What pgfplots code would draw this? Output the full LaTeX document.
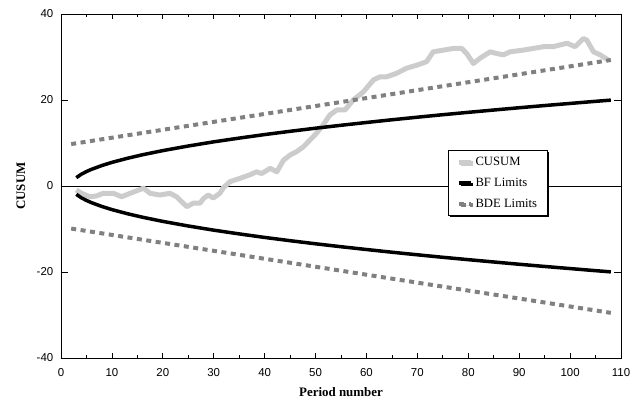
\documentclass[border=0pt]{standalone}
\usepackage{pgfplots}
\pgfplotsset{compat=1.18}
\usepackage{fontspec}
\setmainfont{Liberation Serif}
\newfontfamily\ticksans{Liberation Sans}
\usetikzlibrary{shadows}
\definecolor{cusumgray}{RGB}{204,204,204}
\definecolor{bdegray}{RGB}{128,128,128}
\begin{document}
\begin{tikzpicture}
\begin{axis}[
  scale only axis,
  width=560bp, height=344bp,
  xmin=0, xmax=110, ymin=-40, ymax=40,
  xtick={0,10,...,110},
  xticklabels={0,10,20,30,40,50,60,70,80,90,100,110},
  minor xtick={5,15,...,105},
  ytick={-40,-20,0,20,40},
  yticklabels={-40,-20,0,20,40},
  tick align=inside,
  major tick length=5bp,
  minor tick length=3bp,
  ytick style={/pgfplots/major tick length=7bp},
  tick style={black, line width=0.7bp},
  axis line style={black, line width=0.8bp},
  tick label style={font=\fontsize{11.5}{13}\selectfont\ticksans, inner sep=0pt},
  xticklabel style={anchor=north, yshift=-10.5bp},
  yticklabel style={anchor=east, xshift=-7.5bp},
  xlabel={Period number},
  ylabel={CUSUM},
  label style={font=\fontsize{13}{15}\selectfont\bfseries},
  xlabel style={at={(axis description cs:0.5,-0.0988)}, anchor=center},
  ylabel style={at={(axis description cs:-0.0714,0.5)}, anchor=center},
  legend style={at={(0.78,0.509)}, anchor=center, draw=black, line width=0.6bp,
    font=\fontsize{12.7}{14}\selectfont, row sep=7bp, inner xsep=8bp, inner ysep=5bp,
    drop shadow={shadow xshift=1.5bp, shadow yshift=-1.5bp, fill=black, opacity=1}},
  legend cell align=left,
  legend image code/.code={\draw[#1] (0bp,0bp) -- (12bp,0bp);},
]
\coordinate (SW) at (rel axis cs:0,0);
\addplot[black, line width=0.6bp, forget plot] coordinates {(0,0) (110,0)};
% CUSUM
\addplot[cusumgray, line width=5bp, line join=round] coordinates {
(3,-0.9) (4,-1.7) (5.7,-2.5) (7,-2.3) (8.3,-1.7) (10.3,-1.7) (11.9,-2.5) (13.6,-1.7)
(16.2,-0.5) (17.5,-1.7) (19.4,-2.1) (21.4,-1.7) (22.7,-2.5) (24.7,-4.8) (26,-4.0)
(27.3,-4.0) (28,-2.9) (28.9,-2.1) (29.9,-2.8) (31.2,-1.7) (31.9,-0.4) (33.2,1.0)
(35.2,1.8) (37.1,2.6) (38.4,3.3) (39.4,2.9) (41.1,4.1) (42.4,3.3) (43.7,6.0) (45,7.2)
(46.3,8.0) (47.6,9.1) (48.9,10.7) (50.2,12.3) (51.5,14.2) (52.8,16.5) (54.2,17.7)
(55.8,17.7) (57.4,20.0) (59.4,21.9) (61.4,24.7) (62.7,25.4) (64,25.4) (65.9,26.2)
(67.9,27.4) (69.9,28.1) (71.8,28.9) (73.1,31.2) (75.1,31.6) (77.1,32.0) (78.7,32.0)
(79.7,30.8) (81,28.5) (82.3,29.7) (84.3,31.2) (85.6,30.8) (86.9,30.5) (88.2,31.2)
(90.8,31.6) (92.8,32.0) (94.8,32.4) (96.7,32.4) (98,32.8) (99.4,33.2) (101,32.4)
(102.6,34.3) (103.3,33.9) (104.6,31.2) (105.9,30.5) (107.5,29.3)
};
\addlegendentry{CUSUM}
% BF limits
\addplot[black, line width=3.5bp] coordinates {
(3,1.94) (4,2.74) (5,3.36) (6,3.88) (8,4.75) (10,5.49) (13,6.43) (16,7.26) (20,8.23)
(25,9.30) (30,10.27) (35,11.14) (40,11.96) (45,12.72) (50,13.44) (55,14.12) (60,14.77)
(65,15.40) (70,16.00) (75,16.58) (80,17.13) (85,17.67) (90,18.20) (95,18.71) (100,19.20)
(105,19.69) (108,19.97)
};
\addlegendentry{BF Limits}
% BDE limits
\addplot[bdegray, line width=4bp, dash pattern=on 5bp off 4.5bp] coordinates {(2,9.75) (108,29.3)};
\addlegendentry{BDE Limits}
\addplot[black, line width=3.5bp, forget plot] coordinates {
(3,-1.94) (4,-2.74) (5,-3.36) (6,-3.88) (8,-4.75) (10,-5.49) (13,-6.43) (16,-7.26) (20,-8.23)
(25,-9.30) (30,-10.27) (35,-11.14) (40,-11.96) (45,-12.72) (50,-13.44) (55,-14.12) (60,-14.77)
(65,-15.40) (70,-16.00) (75,-16.58) (80,-17.13) (85,-17.67) (90,-18.20) (95,-18.71) (100,-19.20)
(105,-19.69) (108,-19.97)
};
\addplot[bdegray, line width=4bp, dash pattern=on 5bp off 4.5bp, forget plot] coordinates {(2,-9.9) (108,-29.5)};
\end{axis}
\path (SW) ++(-61bp,-40bp) rectangle ++(636bp,398bp);
\end{tikzpicture}
\end{document}
